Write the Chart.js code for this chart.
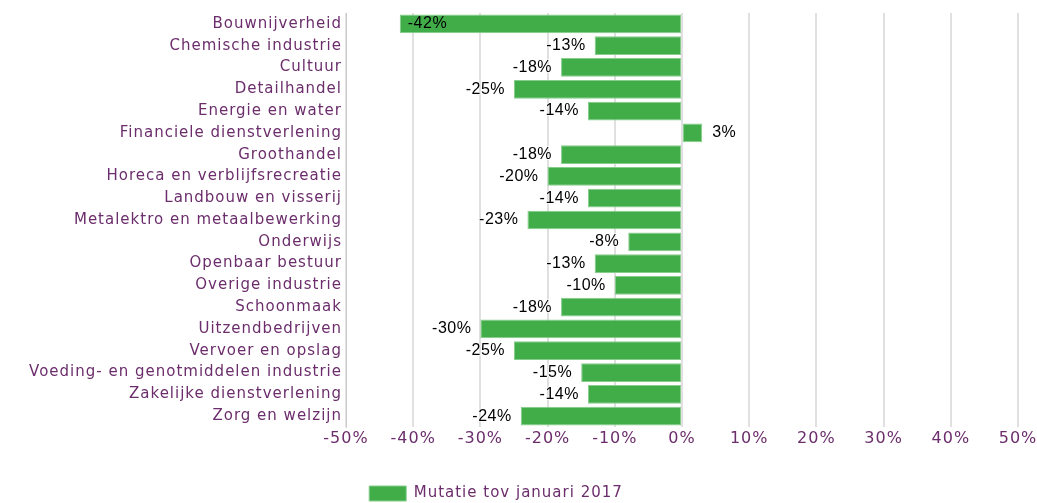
<!DOCTYPE html>
<html>
<head>
<meta charset="utf-8">
<script src="https://cdn.jsdelivr.net/npm/chart.js@4/dist/chart.umd.min.js"></script>
<style>
  body { margin: 0; background: #fff; }
  #wrap { width: 1037px; height: 503px; }
</style>
</head>
<body>
<div id="wrap"><canvas id="chart"></canvas></div>
<script>
// sectors and their change vs january 2017 (%)
const sectors = [
  'Bouwnijverheid', 'Chemische industrie', 'Cultuur', 'Detailhandel',
  'Energie en water', 'Financiele dienstverlening', 'Groothandel',
  'Horeca en verblijfsrecreatie', 'Landbouw en visserij',
  'Metalektro en metaalbewerking', 'Onderwijs', 'Openbaar bestuur',
  'Overige industrie', 'Schoonmaak', 'Uitzendbedrijven', 'Vervoer en opslag',
  'Voeding- en genotmiddelen industrie', 'Zakelijke dienstverlening',
  'Zorg en welzijn'
];
const mutatie = [-42, -13, -18, -25, -14, 3, -18, -20, -14, -23, -8, -13, -10, -18, -30, -25, -15, -14, -24];
const xTicks = [-50, -40, -30, -20, -10, 0, 10, 20, 30, 40, 50];
const seriesName = 'Mutatie tov januari 2017';

const purple = '#6b2d6b';

// the original text is spaced out a bit
const spacing = {
  id: 'spacing',
  beforeLayout(chart) { chart.ctx.letterSpacing = '1px'; },
  afterLayout(chart) {
    // nudge legend to where the original has it
    const lg = chart.legend;
    lg.left -= 13; lg.right -= 13;
    lg.top += 8; lg.bottom += 8;
  },
  beforeDraw(chart) { chart.ctx.letterSpacing = '1px'; }
};

// value labels next to the bars (inside when there's no room)
const valueLabels = {
  id: 'valueLabels',
  afterDatasetsDraw(chart) {
    const ctx = chart.ctx;
    const meta = chart.getDatasetMeta(0);
    const area = chart.chartArea;
    ctx.save();
    ctx.letterSpacing = '0.5px';
    ctx.font = '16px "Liberation Sans", Arial, sans-serif';
    ctx.textBaseline = 'middle';
    ctx.lineJoin = 'round';
    meta.data.forEach((bar, i) => {
      const v = mutatie[i];
      const txt = v + '%';
      const w = ctx.measureText(txt).width;
      let x, align, inside = false;
      if (v >= 0) {
        x = bar.x + 10; align = 'left';
      } else if (bar.x - w - 9 < area.left + 20) {
        x = bar.x + 8; align = 'left'; inside = true;
      } else {
        x = bar.x - 9; align = 'right';
      }
      ctx.textAlign = align;
      if (!inside) {
        ctx.strokeStyle = 'rgba(255,255,255,0.7)';
        ctx.lineWidth = 2;
        ctx.strokeText(txt, x, bar.y);
      }
      ctx.fillStyle = '#000';
      ctx.fillText(txt, x, bar.y);
    });
    ctx.restore();
  }
};

Chart.defaults.font.family = '"DejaVu Sans", Verdana, sans-serif';

new Chart(document.getElementById('chart'), {
  type: 'bar',
  data: {
    labels: sectors,
    datasets: [{
      label: seriesName,
      data: mutatie,
      backgroundColor: '#41ad49',
      borderColor: '#86cd8b',
      borderWidth: 1,
      borderSkipped: false,
      categoryPercentage: 1,
      barPercentage: 0.86
    }]
  },
  options: {
    indexAxis: 'y',
    responsive: true,
    maintainAspectRatio: false,
    animation: false,
    layout: { padding: { top: 11, right: 19, left: 0, bottom: 0 } },
    scales: {
      x: {
        min: -50,
        max: 50,
        afterBuildTicks: (scale) => { scale.ticks = xTicks.map(v => ({ value: v })); },
        grid: { color: '#e0e0e0', lineWidth: 2, drawTicks: false },
        border: { display: false },
        ticks: {
          color: purple,
          font: { size: 16 },
          padding: 2,
          callback: (v) => v + '%'
        },
        afterFit: (scale) => {
          scale.height = 45;
          scale.paddingLeft = 0;
          scale.paddingRight = 0;
        }
      },
      y: {
        grid: { display: false, drawTicks: false },
        border: { display: true, color: '#cccccc' },
        ticks: { color: purple, font: { size: 15 }, padding: 4, autoSkip: false },
        afterFit: (scale) => { scale.width = 346; }
      }
    },
    plugins: {
      legend: {
        position: 'bottom',
        labels: {
          color: purple,
          font: { size: 15 },
          boxWidth: 37,
          boxHeight: 15,
          padding: 6
        }
      },
      tooltip: { enabled: false }
    }
  },
  plugins: [spacing, valueLabels]
});
</script>
</body>
</html>
